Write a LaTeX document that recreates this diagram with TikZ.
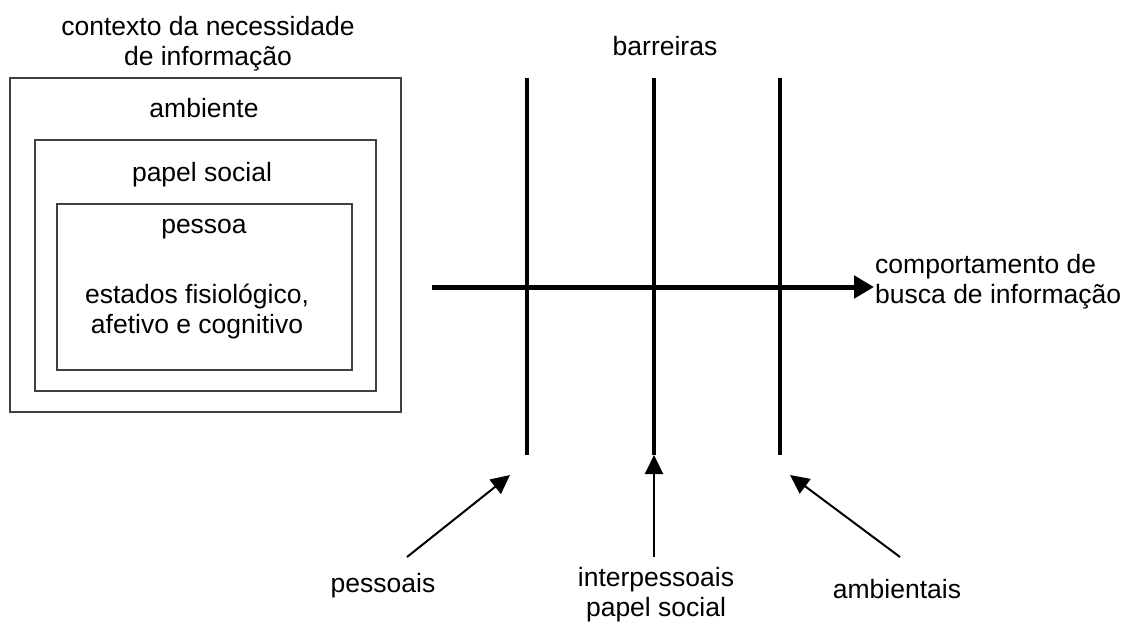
\documentclass[tikz,border=0pt]{standalone}
\usepackage{fontspec}
\setmainfont{Liberation Sans}
\usetikzlibrary{arrows.meta}
\begin{document}
\begin{tikzpicture}[x=1pt,y=-1pt,
  lbl/.style={inner sep=0pt,align=center,font=\fontsize{26.5}{30}\selectfont},
  boxline/.style={draw=black!75,line width=1.5pt},
  barrier/.style={line width=4pt},
  thinarrow/.style={line width=2pt,-{Triangle[length=19pt,width=18pt]}},
  mainarrow/.style={line width=5pt,-{Triangle[length=20pt,width=22pt]}}]
\useasboundingbox (0,0) rectangle (1123,622);
% nested boxes
\draw[boxline] (10,78) rectangle (401,412);
\draw[boxline] (35,140) rectangle (376,391);
\draw[boxline] (57,204) rectangle (352,370);
\node[lbl] (ctx) at (208,44) {contexto da necessidade\\de informação};
\node[lbl] (amb) at (204,108) {ambiente};
\node[lbl] (pap) at (202,175) {papel social};
\node[lbl] (pes) at (204,229) {pessoa};
\node[lbl] (est) at (197,311) {estados fisiológico,\\afetivo e cognitivo};
% barriers
\node[lbl] (bar) at (665,46) {barreiras};
\coordinate (b1t) at (527,78); \coordinate (b1b) at (527,455);
\coordinate (b2t) at (654,78); \coordinate (b2b) at (654,455);
\coordinate (b3t) at (780,78); \coordinate (b3b) at (780,455);
\draw[barrier] (b1t) -- (b1b);
\draw[barrier] (b2t) -- (b2b);
\draw[barrier] (b3t) -- (b3b);
% main arrow
\coordinate (hs) at (432,287);
\coordinate (he) at (874,287);
\draw[mainarrow] (hs) -- (he);
\node[lbl,align=left,anchor=west] (comp) at (875,282) {comportamento de\\busca de informação};
% bottom labels and arrows
\node[lbl] (p1) at (383,586) {pessoais};
\node[lbl] (p2) at (656,595) {interpessoais\\papel social};
\node[lbl] (p3) at (897,589) {ambientais};
\coordinate (a1s) at (407,557); \coordinate (a1e) at (510,475);
\coordinate (a2s) at (654,557); \coordinate (a2e) at (654,455);
\coordinate (a3s) at (900,557); \coordinate (a3e) at (790,475);
\draw[thinarrow] (a1s) -- (a1e);
\draw[thinarrow] (a2s) -- (a2e);
\draw[thinarrow] (a3s) -- (a3e);
\end{tikzpicture}
\end{document}
